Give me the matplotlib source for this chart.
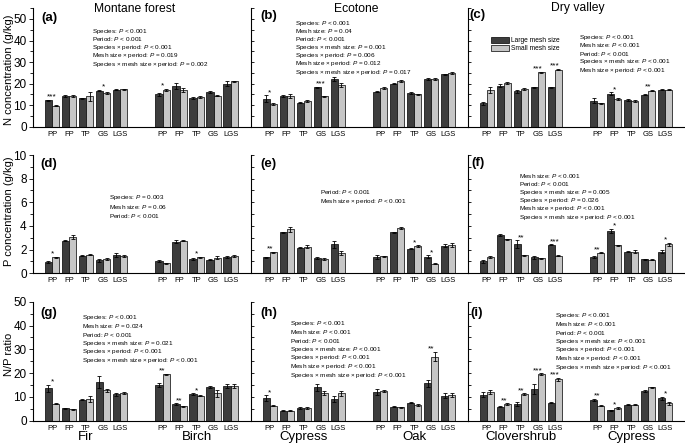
import numpy as np
import matplotlib
matplotlib.use('Agg')
import matplotlib.pyplot as plt
from matplotlib.ticker import MultipleLocator

plt.rcParams['font.family'] = ['Liberation Sans', 'DejaVu Sans']
plt.rcParams['mathtext.fontset'] = 'custom'
plt.rcParams['mathtext.it'] = 'Liberation Sans:italic'
plt.rcParams['mathtext.rm'] = 'Liberation Sans'

W, H = 685, 445

periods = ['PP', 'FP', 'TP', 'GS', 'LGS']
sites = ['Montane forest', 'Ecotone', 'Dry valley']
species = [('Fir', 'Birch'), ('Cypress', 'Oak'), ('Clovershrub', 'Cypress')]

# each list: 5 periods of first species, then 5 of second species
# N concentration (g/kg)
n_large = [[12.2, 14.1, 13.1, 16.8, 17.2, 15.0, 18.8, 13.3, 16.0, 20.0],
           [13.0, 14.3, 11.1, 18.3, 22.2, 16.3, 20.0, 15.7, 22.2, 24.3],
           [10.8, 19.1, 16.4, 18.2, 18.3, 12.1, 15.4, 12.4, 14.9, 17.1]]
n_small = [[9.7, 14.4, 14.1, 15.7, 17.4, 17.2, 16.9, 13.8, 14.4, 21.0],
           [10.7, 14.1, 11.9, 14.1, 19.4, 18.0, 21.3, 15.0, 22.2, 24.9],
           [17.1, 20.4, 17.5, 25.2, 26.5, 10.8, 12.9, 11.9, 16.8, 17.1]]
n_large_err = [[0.3, 0.4, 0.4, 0.3, 0.3, 0.6, 1.5, 0.3, 0.4, 1.2],
               [1.5, 0.4, 0.3, 0.3, 1.0, 0.4, 0.3, 0.3, 0.3, 0.3],
               [0.8, 0.7, 0.8, 0.4, 0.2, 1.0, 0.5, 0.6, 0.3, 0.2]]
n_small_err = [[0.3, 0.4, 2.0, 0.4, 0.3, 0.5, 1.0, 0.3, 0.3, 0.3],
               [0.4, 1.0, 0.5, 0.3, 0.8, 0.4, 0.5, 0.3, 0.3, 0.3],
               [1.5, 0.5, 0.4, 0.2, 0.3, 0.3, 0.5, 0.3, 0.4, 0.2]]
n_stars = [['***', '', '', '*', '', '*', '', '', '', ''],
           ['*', '', '', '***', '', '', '', '', '', ''],
           ['', '', '', '***', '***', '', '*', '', '**', '']]

# P concentration (g/kg)
p_large = [[0.93, 2.76, 1.49, 1.10, 1.55, 1.04, 2.68, 1.21, 1.15, 1.38],
           [1.35, 3.46, 2.17, 1.27, 2.45, 1.38, 3.46, 2.08, 1.41, 2.34],
           [1.01, 3.24, 2.48, 1.35, 2.42, 1.38, 3.60, 1.83, 1.18, 1.83]]
p_small = [[1.35, 3.07, 1.58, 1.24, 1.46, 0.85, 2.76, 1.35, 1.32, 1.46],
           [1.77, 3.72, 2.25, 1.21, 1.72, 1.44, 3.83, 2.31, 0.82, 2.39],
           [1.38, 2.87, 1.52, 1.27, 1.49, 1.75, 2.37, 1.83, 1.15, 2.45]]
p_large_err = [[0.10, 0.05, 0.05, 0.15, 0.15, 0.08, 0.15, 0.05, 0.06, 0.05],
               [0.06, 0.06, 0.06, 0.10, 0.30, 0.15, 0.04, 0.05, 0.10, 0.15],
               [0.15, 0.12, 0.30, 0.15, 0.05, 0.05, 0.18, 0.06, 0.05, 0.10]]
p_small_err = [[0.05, 0.20, 0.04, 0.08, 0.06, 0.04, 0.05, 0.05, 0.15, 0.10],
               [0.05, 0.20, 0.15, 0.06, 0.15, 0.05, 0.12, 0.05, 0.06, 0.15],
               [0.05, 0.05, 0.05, 0.05, 0.05, 0.05, 0.05, 0.10, 0.05, 0.15]]
p_stars = [['*', '', '', '', '', '', '', '*', '', ''],
           ['**', '', '', '', '', '', '', '*', '*', ''],
           ['', '', '**', '', '***', '**', '*', '', '', '*']]

# N/P ratio
np_large = [[13.6, 5.2, 8.8, 16.1, 11.1, 15.0, 7.1, 11.3, 14.1, 14.6],
            [9.4, 4.2, 5.3, 14.1, 9.1, 11.9, 5.9, 7.6, 15.7, 10.5],
            [10.9, 5.9, 7.0, 13.3, 7.6, 8.8, 4.3, 6.7, 12.6, 9.5]]
np_small = [[7.1, 4.8, 9.1, 12.7, 11.5, 19.6, 6.0, 10.5, 11.5, 14.6],
            [6.2, 4.1, 5.3, 11.6, 11.5, 12.3, 5.6, 6.6, 26.9, 10.8],
            [11.9, 7.1, 11.3, 19.5, 17.4, 6.2, 5.3, 6.7, 14.0, 7.3]]
np_large_err = [[1.5, 0.2, 0.3, 2.5, 0.7, 1.0, 0.3, 0.3, 0.5, 0.7],
                [1.2, 0.2, 0.3, 1.5, 1.2, 1.3, 0.3, 0.3, 1.6, 1.0],
                [1.0, 0.3, 0.7, 2.0, 0.2, 0.5, 0.3, 0.3, 0.5, 0.6]]
np_small_err = [[0.2, 0.3, 1.2, 0.7, 0.4, 0.2, 0.3, 0.3, 1.5, 1.0],
                [0.2, 0.2, 0.3, 0.7, 1.0, 0.4, 0.3, 0.3, 2.0, 0.7],
                [0.8, 0.3, 0.3, 0.5, 0.6, 0.2, 0.3, 0.3, 0.3, 0.5]]
np_stars = [['*', '', '', '', '', '**', '**', '*', '', ''],
            ['*', '', '', '', '', '', '', '', '**', ''],
            ['', '**', '**', '***', '***', '**', '*', '', '', '*']]

P_ = r'$\it{P}$'
stats = {
    'a': ['Species: P < 0.001', 'Period: P < 0.001', 'Species \u00d7 period: P < 0.001',
          'Mesh size \u00d7 period: P = 0.019', 'Species \u00d7 mesh size \u00d7 period: P = 0.002'],
    'b': ['Species: P < 0.001', 'Mesh size: P = 0.04', 'Period: P < 0.001',
          'Species \u00d7 mesh size: P = 0.001', 'Species \u00d7 period: P = 0.006',
          'Mesh size \u00d7 period: P = 0.012', 'Species \u00d7 mesh size \u00d7 period: P = 0.017'],
    'c': ['Species: P < 0.001', 'Mesh size: P < 0.001', 'Period: P < 0.001',
          'Species \u00d7 mesh size: P < 0.001', 'Mesh size \u00d7 period: P < 0.001'],
    'd': ['Species: P = 0.003', 'Mesh size: P = 0.06', 'Period: P < 0.001'],
    'e': ['Period: P < 0.001', 'Mesh size \u00d7 period: P < 0.001'],
    'f': ['Mesh size: P < 0.001', 'Period: P < 0.001', 'Species \u00d7 mesh size: P = 0.005',
          'Species \u00d7 period: P = 0.026', 'Mesh size \u00d7 period: P < 0.001',
          'Species \u00d7 mesh size \u00d7 period: P < 0.001'],
    'g': ['Species: P < 0.001', 'Mesh size: P = 0.024', 'Period: P < 0.001',
          'Species \u00d7 mesh size: P = 0.021', 'Species \u00d7 period: P < 0.001',
          'Species \u00d7 mesh size \u00d7 period: P < 0.001'],
    'h': ['Species: P < 0.001', 'Mesh size: P < 0.001', 'Period: P < 0.001',
          'Species \u00d7 mesh size: P < 0.001', 'Species \u00d7 period: P < 0.001',
          'Mesh size \u00d7 period: P < 0.001', 'Species \u00d7 mesh size \u00d7 period: P < 0.001'],
    'i': ['Species: P < 0.001', 'Mesh size: P < 0.001', 'Period: P < 0.001',
          'Species \u00d7 mesh size: P < 0.001', 'Species \u00d7 period: P < 0.001',
          'Mesh size \u00d7 period: P < 0.001', 'Species \u00d7 mesh size \u00d7 period: P < 0.001'],
}
# pixel position of first line (x left, y centre) and line step
stats_pos = {'a': (92, 31, 8.3), 'b': (295, 23, 8.2), 'c': (579, 37, 8.3),
             'd': (109, 198, 9.0), 'e': (320, 192, 9.0), 'f': (519, 176, 8.2),
             'g': (82, 318, 8.5), 'h': (290, 324, 8.5), 'i': (555, 316, 8.5)}
label_pos = {'a': (49, 18), 'b': (269, 16), 'c': (477, 15), 'd': (49, 164), 'e': (268, 164),
             'f': (478, 163), 'g': (49, 313), 'h': (269, 313), 'i': (477, 313)}

dark = '#3d3d3d'
light = '#c6c6c6'

x = np.array([0, 1, 2, 3, 4, 6.5, 7.5, 8.5, 9.5, 10.5])
bw = 0.42

fig = plt.figure(figsize=(W / 100, H / 100), dpi=100)


def ftext(px, py, s, **kw):
    return fig.text(px / W, 1 - py / H, s, **kw)


col_left = [33, 250.7, 467.7]
col_w = 217.3
rows = [dict(top=8.2, bot=126.7, ylim=55, major=10, minor=5, data=(n_large, n_small, n_large_err, n_small_err, n_stars)),
        dict(top=155.0, bot=273.3, ylim=10, major=2, minor=1, data=(p_large, p_small, p_large_err, p_small_err, p_stars)),
        dict(top=301.7, bot=420.7, ylim=50, major=10, minor=5, data=(np_large, np_small, np_large_err, np_small_err, np_stars))]
ylabels = ['N concentration (g/kg)', 'P concentration (g/kg)', 'N/P ratio']
ylabel_y = [70, 211, 354]
letters = 'abcdefghi'

for r, row in enumerate(rows):
    lg, sm, lge, sme, stars = row['data']
    for c in range(3):
        ax = fig.add_axes([col_left[c] / W, 1 - row['bot'] / H, col_w / W, (row['bot'] - row['top']) / H])
        ax.patch.set_alpha(0)
        b1 = ax.bar(x - bw / 2, lg[c], bw, color=dark, edgecolor='black', linewidth=0.5,
                    yerr=lge[c], capsize=1.7, error_kw=dict(elinewidth=0.6, capthick=0.6, ecolor='black'))
        b2 = ax.bar(x + bw / 2, sm[c], bw, color=light, edgecolor='black', linewidth=0.5,
                    yerr=sme[c], capsize=1.7, error_kw=dict(elinewidth=0.6, capthick=0.6, ecolor='black'))
        for i, s in enumerate(stars[c]):
            if s:
                top = max(lg[c][i] + lge[c][i], sm[c][i] + sme[c][i])
                ax.annotate(s, xy=(x[i], top), xytext=(0, 0.8), textcoords='offset points',
                            ha='center', va='baseline', fontsize=6)
        ax.set_xlim(-1.12, 11.66)
        ax.set_ylim(0, row['ylim'])
        ax.set_xticks(x)
        ax.set_xticklabels(periods * 2, fontsize=5.5)
        ax.tick_params(axis='x', length=0, pad=3)
        ax.yaxis.set_major_locator(MultipleLocator(row['major']))
        ax.yaxis.set_minor_locator(MultipleLocator(row['minor']))
        ax.spines['top'].set_visible(False)
        ax.spines['right'].set_visible(False)
        ax.spines['left'].set_linewidth(0.8)
        ax.spines['bottom'].set_linewidth(0.8)
        if c == 0:
            ax.tick_params(axis='y', which='major', labelsize=8.5, length=3, width=0.6, pad=1.5)
            ax.tick_params(axis='y', which='minor', length=2, width=0.6)
        else:
            ax.tick_params(axis='y', which='both', direction='in', length=2, width=0.6, labelleft=False)
        if r == 2:
            for g, gx in enumerate([2, 8.5]):
                ax.annotate(species[c][g], xy=(gx, 0), xycoords=('data', 'axes fraction'),
                            xytext=(0, -16 * 0.72), textcoords='offset points',
                            ha='center', va='center', fontsize=9.5)
        if r == 0 and c == 2:
            ax.legend([b1, b2], ['Large mesh size', 'Small mesh size'], loc='upper left',
                      bbox_to_anchor=(488 / W, 1 - 34 / H), bbox_transform=fig.transFigure,
                      frameon=False, fontsize=4.8, handlelength=2.6, handleheight=0.9,
                      handletextpad=0.4, labelspacing=0.15, borderpad=0)
        L = letters[r * 3 + c]
        lx, ly = label_pos[L]
        ftext(lx, ly, '(%s)' % L, ha='center', va='center', fontsize=9.5, fontweight='bold')
        sx, sy, dy = stats_pos[L]
        for k, line in enumerate(stats[L]):
            ftext(sx, sy + k * dy, line.replace('P ', P_ + ' '),
                  ha='left', va='center', fontsize=4.6)
    ftext(9, ylabel_y[r], ylabels[r], rotation=90, ha='center', va='center', fontsize=8)

for c, (site, sx) in enumerate(zip(sites, [134.5, 356.7, 577.5])):
    ftext(sx, 8.5, site, ha='center', va='center', fontsize=8.7)

fig.savefig('out.png', dpi=100)
